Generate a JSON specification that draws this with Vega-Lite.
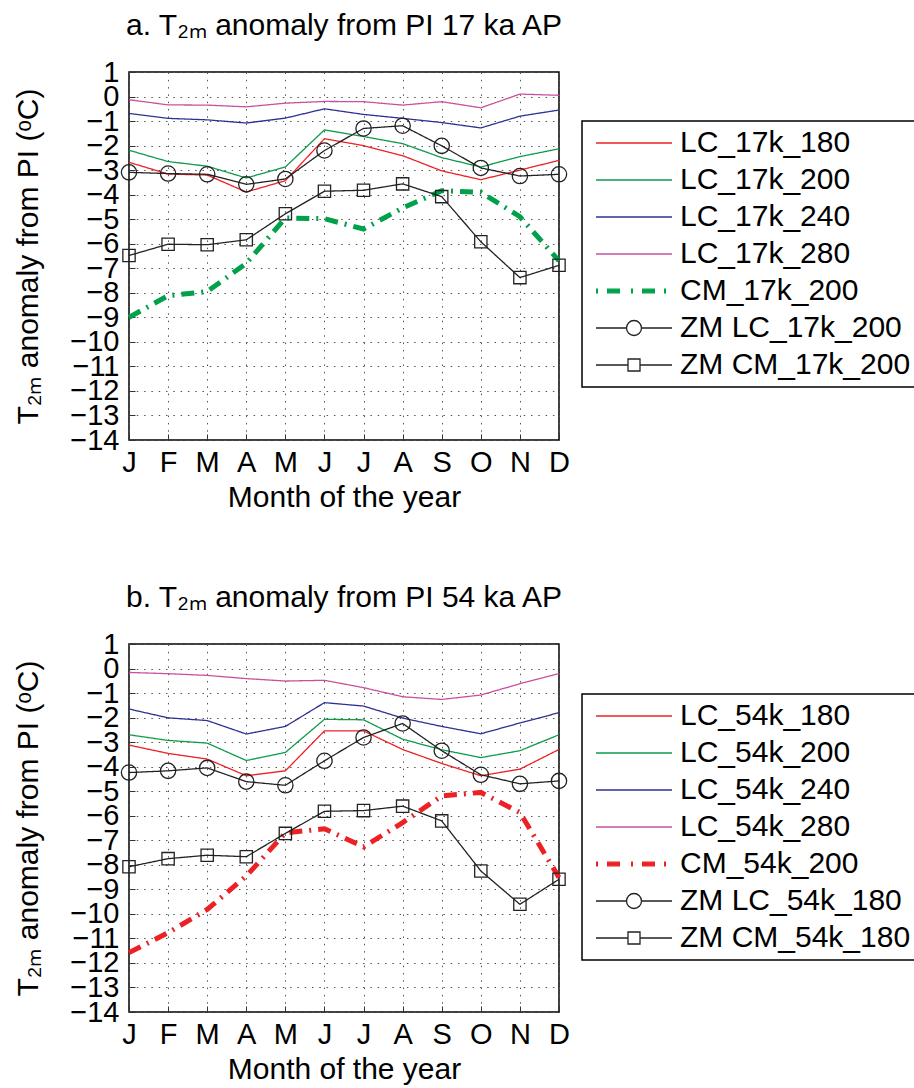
{
  "$schema": "https://vega.github.io/schema/vega-lite/v6.json",
  "padding": {"left": 12, "top": 10, "right": 0, "bottom": 0},
  "spacing": 69,
  "resolve": {"scale": {"color": "independent"}, "legend": {"color": "independent"}},
  "config": {
    "font": "Liberation Sans",
    "view": {"stroke": "black", "strokeWidth": 1.5},
    "axis": {
      "labelFontSize": 29, "titleFontSize": 30, "labelColor": "black", "titleColor": "black",
      "titleFontWeight": "normal", "grid": true, "gridDash": [1.5, 5.8], "gridColor": "#555", "gridWidth": 1,
      "domain": false, "ticks": true, "tickColor": "#333", "tickSize": -6,
      "labelOverlap": false, "labelFlush": false, "labelBound": false
    },
    "title": {"fontSize": 30, "fontWeight": "normal", "color": "black", "anchor": "middle", "baseline": "alphabetic", "offset": 17}
  },
  "datasets": {
    "a": [
      {"series": "LC_17k_180", "m": 1, "t": -2.68}, {"series": "LC_17k_180", "m": 2, "t": -3.16}, {"series": "LC_17k_180", "m": 3, "t": -3.2}, {"series": "LC_17k_180", "m": 4, "t": -3.89}, {"series": "LC_17k_180", "m": 5, "t": -3.43}, {"series": "LC_17k_180", "m": 6, "t": -1.72}, {"series": "LC_17k_180", "m": 7, "t": -2.0}, {"series": "LC_17k_180", "m": 8, "t": -2.41}, {"series": "LC_17k_180", "m": 9, "t": -3.03}, {"series": "LC_17k_180", "m": 10, "t": -3.39}, {"series": "LC_17k_180", "m": 11, "t": -3.0}, {"series": "LC_17k_180", "m": 12, "t": -2.6},
      {"series": "LC_17k_200", "m": 1, "t": -2.19}, {"series": "LC_17k_200", "m": 2, "t": -2.65}, {"series": "LC_17k_200", "m": 3, "t": -2.84}, {"series": "LC_17k_200", "m": 4, "t": -3.32}, {"series": "LC_17k_200", "m": 5, "t": -2.87}, {"series": "LC_17k_200", "m": 6, "t": -1.36}, {"series": "LC_17k_200", "m": 7, "t": -1.63}, {"series": "LC_17k_200", "m": 8, "t": -1.92}, {"series": "LC_17k_200", "m": 9, "t": -2.49}, {"series": "LC_17k_200", "m": 10, "t": -2.87}, {"series": "LC_17k_200", "m": 11, "t": -2.45}, {"series": "LC_17k_200", "m": 12, "t": -2.13},
      {"series": "LC_17k_240", "m": 1, "t": -0.69}, {"series": "LC_17k_240", "m": 2, "t": -0.89}, {"series": "LC_17k_240", "m": 3, "t": -0.95}, {"series": "LC_17k_240", "m": 4, "t": -1.08}, {"series": "LC_17k_240", "m": 5, "t": -0.88}, {"series": "LC_17k_240", "m": 6, "t": -0.5}, {"series": "LC_17k_240", "m": 7, "t": -0.73}, {"series": "LC_17k_240", "m": 8, "t": -0.89}, {"series": "LC_17k_240", "m": 9, "t": -1.06}, {"series": "LC_17k_240", "m": 10, "t": -1.28}, {"series": "LC_17k_240", "m": 11, "t": -0.8}, {"series": "LC_17k_240", "m": 12, "t": -0.55},
      {"series": "LC_17k_280", "m": 1, "t": -0.13}, {"series": "LC_17k_280", "m": 2, "t": -0.34}, {"series": "LC_17k_280", "m": 3, "t": -0.35}, {"series": "LC_17k_280", "m": 4, "t": -0.42}, {"series": "LC_17k_280", "m": 5, "t": -0.27}, {"series": "LC_17k_280", "m": 6, "t": -0.2}, {"series": "LC_17k_280", "m": 7, "t": -0.21}, {"series": "LC_17k_280", "m": 8, "t": -0.35}, {"series": "LC_17k_280", "m": 9, "t": -0.21}, {"series": "LC_17k_280", "m": 10, "t": -0.46}, {"series": "LC_17k_280", "m": 11, "t": 0.1}, {"series": "LC_17k_280", "m": 12, "t": 0.05},
      {"series": "CM_17k_200", "m": 1, "t": -9.0}, {"series": "CM_17k_200", "m": 2, "t": -8.12}, {"series": "CM_17k_200", "m": 3, "t": -7.95}, {"series": "CM_17k_200", "m": 4, "t": -6.8}, {"series": "CM_17k_200", "m": 5, "t": -4.95}, {"series": "CM_17k_200", "m": 6, "t": -4.98}, {"series": "CM_17k_200", "m": 7, "t": -5.4}, {"series": "CM_17k_200", "m": 8, "t": -4.54}, {"series": "CM_17k_200", "m": 9, "t": -3.84}, {"series": "CM_17k_200", "m": 10, "t": -3.9}, {"series": "CM_17k_200", "m": 11, "t": -4.9}, {"series": "CM_17k_200", "m": 12, "t": -6.7},
      {"series": "ZM LC_17k_200", "m": 1, "t": -3.09}, {"series": "ZM LC_17k_200", "m": 2, "t": -3.14}, {"series": "ZM LC_17k_200", "m": 3, "t": -3.17}, {"series": "ZM LC_17k_200", "m": 4, "t": -3.58}, {"series": "ZM LC_17k_200", "m": 5, "t": -3.36}, {"series": "ZM LC_17k_200", "m": 6, "t": -2.2}, {"series": "ZM LC_17k_200", "m": 7, "t": -1.3}, {"series": "ZM LC_17k_200", "m": 8, "t": -1.19}, {"series": "ZM LC_17k_200", "m": 9, "t": -2.01}, {"series": "ZM LC_17k_200", "m": 10, "t": -2.91}, {"series": "ZM LC_17k_200", "m": 11, "t": -3.24}, {"series": "ZM LC_17k_200", "m": 12, "t": -3.17},
      {"series": "ZM CM_17k_200", "m": 1, "t": -6.48}, {"series": "ZM CM_17k_200", "m": 2, "t": -6.02}, {"series": "ZM CM_17k_200", "m": 3, "t": -6.04}, {"series": "ZM CM_17k_200", "m": 4, "t": -5.84}, {"series": "ZM CM_17k_200", "m": 5, "t": -4.78}, {"series": "ZM CM_17k_200", "m": 6, "t": -3.86}, {"series": "ZM CM_17k_200", "m": 7, "t": -3.82}, {"series": "ZM CM_17k_200", "m": 8, "t": -3.56}, {"series": "ZM CM_17k_200", "m": 9, "t": -4.08}, {"series": "ZM CM_17k_200", "m": 10, "t": -5.92}, {"series": "ZM CM_17k_200", "m": 11, "t": -7.38}, {"series": "ZM CM_17k_200", "m": 12, "t": -6.88}
    ],
    "b": [
      {"series": "LC_54k_180", "m": 1, "t": -3.12}, {"series": "LC_54k_180", "m": 2, "t": -3.46}, {"series": "LC_54k_180", "m": 3, "t": -3.69}, {"series": "LC_54k_180", "m": 4, "t": -4.37}, {"series": "LC_54k_180", "m": 5, "t": -4.17}, {"series": "LC_54k_180", "m": 6, "t": -2.54}, {"series": "LC_54k_180", "m": 7, "t": -2.54}, {"series": "LC_54k_180", "m": 8, "t": -3.3}, {"series": "LC_54k_180", "m": 9, "t": -3.87}, {"series": "LC_54k_180", "m": 10, "t": -4.37}, {"series": "LC_54k_180", "m": 11, "t": -4.1}, {"series": "LC_54k_180", "m": 12, "t": -3.3},
      {"series": "LC_54k_200", "m": 1, "t": -2.7}, {"series": "LC_54k_200", "m": 2, "t": -2.93}, {"series": "LC_54k_200", "m": 3, "t": -3.04}, {"series": "LC_54k_200", "m": 4, "t": -3.75}, {"series": "LC_54k_200", "m": 5, "t": -3.42}, {"series": "LC_54k_200", "m": 6, "t": -2.07}, {"series": "LC_54k_200", "m": 7, "t": -2.09}, {"series": "LC_54k_200", "m": 8, "t": -2.88}, {"series": "LC_54k_200", "m": 9, "t": -3.31}, {"series": "LC_54k_200", "m": 10, "t": -3.63}, {"series": "LC_54k_200", "m": 11, "t": -3.35}, {"series": "LC_54k_200", "m": 12, "t": -2.7},
      {"series": "LC_54k_240", "m": 1, "t": -1.65}, {"series": "LC_54k_240", "m": 2, "t": -2.01}, {"series": "LC_54k_240", "m": 3, "t": -2.12}, {"series": "LC_54k_240", "m": 4, "t": -2.67}, {"series": "LC_54k_240", "m": 5, "t": -2.36}, {"series": "LC_54k_240", "m": 6, "t": -1.39}, {"series": "LC_54k_240", "m": 7, "t": -1.53}, {"series": "LC_54k_240", "m": 8, "t": -2.02}, {"series": "LC_54k_240", "m": 9, "t": -2.36}, {"series": "LC_54k_240", "m": 10, "t": -2.66}, {"series": "LC_54k_240", "m": 11, "t": -2.22}, {"series": "LC_54k_240", "m": 12, "t": -1.8},
      {"series": "LC_54k_280", "m": 1, "t": -0.16}, {"series": "LC_54k_280", "m": 2, "t": -0.21}, {"series": "LC_54k_280", "m": 3, "t": -0.28}, {"series": "LC_54k_280", "m": 4, "t": -0.41}, {"series": "LC_54k_280", "m": 5, "t": -0.51}, {"series": "LC_54k_280", "m": 6, "t": -0.48}, {"series": "LC_54k_280", "m": 7, "t": -0.78}, {"series": "LC_54k_280", "m": 8, "t": -1.15}, {"series": "LC_54k_280", "m": 9, "t": -1.26}, {"series": "LC_54k_280", "m": 10, "t": -1.08}, {"series": "LC_54k_280", "m": 11, "t": -0.62}, {"series": "LC_54k_280", "m": 12, "t": -0.21},
      {"series": "CM_54k_200", "m": 1, "t": -11.58}, {"series": "CM_54k_200", "m": 2, "t": -10.77}, {"series": "CM_54k_200", "m": 3, "t": -9.82}, {"series": "CM_54k_200", "m": 4, "t": -8.46}, {"series": "CM_54k_200", "m": 5, "t": -6.7}, {"series": "CM_54k_200", "m": 6, "t": -6.53}, {"series": "CM_54k_200", "m": 7, "t": -7.27}, {"series": "CM_54k_200", "m": 8, "t": -6.28}, {"series": "CM_54k_200", "m": 9, "t": -5.19}, {"series": "CM_54k_200", "m": 10, "t": -5.05}, {"series": "CM_54k_200", "m": 11, "t": -5.87}, {"series": "CM_54k_200", "m": 12, "t": -8.52},
      {"series": "ZM LC_54k_180", "m": 1, "t": -4.24}, {"series": "ZM LC_54k_180", "m": 2, "t": -4.17}, {"series": "ZM LC_54k_180", "m": 3, "t": -4.05}, {"series": "ZM LC_54k_180", "m": 4, "t": -4.61}, {"series": "ZM LC_54k_180", "m": 5, "t": -4.76}, {"series": "ZM LC_54k_180", "m": 6, "t": -3.76}, {"series": "ZM LC_54k_180", "m": 7, "t": -2.81}, {"series": "ZM LC_54k_180", "m": 8, "t": -2.24}, {"series": "ZM LC_54k_180", "m": 9, "t": -3.35}, {"series": "ZM LC_54k_180", "m": 10, "t": -4.33}, {"series": "ZM LC_54k_180", "m": 11, "t": -4.7}, {"series": "ZM LC_54k_180", "m": 12, "t": -4.58},
      {"series": "ZM CM_54k_180", "m": 1, "t": -8.08}, {"series": "ZM CM_54k_180", "m": 2, "t": -7.75}, {"series": "ZM CM_54k_180", "m": 3, "t": -7.61}, {"series": "ZM CM_54k_180", "m": 4, "t": -7.67}, {"series": "ZM CM_54k_180", "m": 5, "t": -6.72}, {"series": "ZM CM_54k_180", "m": 6, "t": -5.82}, {"series": "ZM CM_54k_180", "m": 7, "t": -5.79}, {"series": "ZM CM_54k_180", "m": 8, "t": -5.61}, {"series": "ZM CM_54k_180", "m": 9, "t": -6.21}, {"series": "ZM CM_54k_180", "m": 10, "t": -8.25}, {"series": "ZM CM_54k_180", "m": 11, "t": -9.61}, {"series": "ZM CM_54k_180", "m": 12, "t": -8.59}
    ]
  },
  "vconcat": [
    {
      "title": {"text": "a. T₂ₘ anomaly from PI 17 ka AP"},
      "width": 430, "height": 368,
      "data": {"name": "a"},
      "encoding": {
        "x": {"field": "m", "type": "quantitative", "scale": {"domain": [1, 12], "nice": false, "zero": false},
              "axis": {"title": "Month of the year", "values": [1,2,3,4,5,6,7,8,9,10,11,12], "labelExpr": "['J','F','M','A','M','J','J','A','S','O','N','D'][datum.value-1]", "labelPadding": 14, "titlePadding": 5}},
        "y": {"field": "t", "type": "quantitative", "scale": {"domain": [-14, 1], "nice": false, "zero": false},
              "axis": {"title": "T₂ₘ anomaly from PI (ᵒC)", "values": [-14,-13,-12,-11,-10,-9,-8,-7,-6,-5,-4,-3,-2,-1,0,1], "labelPadding": 16, "titleX": -92, "titleBaseline": "alphabetic"}}
      },
      "layer": [
        {
          "mark": {"type": "line"},
          "encoding": {
            "color": {"field": "series", "type": "nominal",
              "scale": {"domain": ["LC_17k_180", "LC_17k_200", "LC_17k_240", "LC_17k_280", "CM_17k_200", "ZM LC_17k_200", "ZM CM_17k_200"],
                        "range": ["#ed2024", "#0d9b48", "#2e3192", "#c8509f", "#00a14b", "#222222", "#222222"]},
              "legend": {
                "orient": "none", "legendX": 453, "legendY": 49, "title": null,
                "strokeColor": "black", "padding": 7, "labelFontSize": 30, "labelColor": "black", "labelLimit": 400,
                "symbolSize": 100, "symbolOffset": 0, "labelOffset": 61, "rowPadding": 7, "symbolStrokeWidth": 1.3,
                "encode": {
                  "legend": {"update": {"strokeWidth": {"value": 1.5}}},
                  "symbols": {"update": {
                    "shape": {"signal": "indexof(datum.value, 'ZM LC') === 0 ? 'M-1.6,0H4.5M7.5,0H13.6M4.5,0A1.5,1.5,0,1,1,7.5,0A1.5,1.5,0,1,1,4.5,0' : indexof(datum.value, 'ZM CM') === 0 ? 'M-1.6,0H4.8M7.2,0H13.6M4.8,-1.2H7.2V1.2H4.8Z' : indexof(datum.value, 'CM') === 0 ? 'M-1.47,-0.37H-1.33V0.37H-1.47ZM0.73,-0.37H3.07V0.37H0.73ZM5.53,-0.37H5.67V0.37H5.53ZM7.73,-0.37H10.07V0.37H7.73ZM12.13,-0.37H12.27V0.37H12.13Z' : 'M-1.6,0H13.6'"},
                    "fill": {"signal": "indexof(datum.value, 'CM') === 0 ? '#00a14b' : 'transparent'"}
                  }}
                }
              }},
            "strokeDash": {"condition": {"test": "datum.series === 'CM_17k_200'", "value": [13, 7, 2, 7]}, "value": [1, 0]},
            "strokeWidth": {"condition": {"test": "datum.series === 'CM_17k_200'", "value": 5}, "value": 1.3}
          }
        },
        {
          "transform": [{"filter": "datum.series === 'ZM LC_17k_200'"}],
          "mark": {"type": "point", "shape": "circle", "filled": false, "size": 234, "color": "#222222", "strokeWidth": 1.3, "opacity": 1}
        },
        {
          "transform": [{"filter": "datum.series === 'ZM CM_17k_200'"}],
          "mark": {"type": "point", "shape": "square", "filled": false, "size": 151, "color": "#222222", "strokeWidth": 1.3, "opacity": 1}
        }
      ]
    },
    {
      "title": {"text": "b. T₂ₘ anomaly from PI 54 ka AP"},
      "width": 430, "height": 368,
      "data": {"name": "b"},
      "encoding": {
        "x": {"field": "m", "type": "quantitative", "scale": {"domain": [1, 12], "nice": false, "zero": false},
              "axis": {"title": "Month of the year", "values": [1,2,3,4,5,6,7,8,9,10,11,12], "labelExpr": "['J','F','M','A','M','J','J','A','S','O','N','D'][datum.value-1]", "labelPadding": 14, "titlePadding": 5}},
        "y": {"field": "t", "type": "quantitative", "scale": {"domain": [-14, 1], "nice": false, "zero": false},
              "axis": {"title": "T₂ₘ anomaly from PI (ᵒC)", "values": [-14,-13,-12,-11,-10,-9,-8,-7,-6,-5,-4,-3,-2,-1,0,1], "labelPadding": 16, "titleX": -92, "titleBaseline": "alphabetic"}}
      },
      "layer": [
        {
          "mark": {"type": "line"},
          "encoding": {
            "color": {"field": "series", "type": "nominal",
              "scale": {"domain": ["LC_54k_180", "LC_54k_200", "LC_54k_240", "LC_54k_280", "CM_54k_200", "ZM LC_54k_180", "ZM CM_54k_180"],
                        "range": ["#ed2024", "#0d9b48", "#2e3192", "#c8509f", "#ed2024", "#222222", "#222222"]},
              "legend": {
                "orient": "none", "legendX": 453, "legendY": 50, "title": null,
                "strokeColor": "black", "padding": 7, "labelFontSize": 30, "labelColor": "black", "labelLimit": 400,
                "symbolSize": 100, "symbolOffset": 0, "labelOffset": 61, "rowPadding": 7, "symbolStrokeWidth": 1.3,
                "encode": {
                  "legend": {"update": {"strokeWidth": {"value": 1.5}}},
                  "symbols": {"update": {
                    "shape": {"signal": "indexof(datum.value, 'ZM LC') === 0 ? 'M-1.6,0H4.5M7.5,0H13.6M4.5,0A1.5,1.5,0,1,1,7.5,0A1.5,1.5,0,1,1,4.5,0' : indexof(datum.value, 'ZM CM') === 0 ? 'M-1.6,0H4.8M7.2,0H13.6M4.8,-1.2H7.2V1.2H4.8Z' : indexof(datum.value, 'CM') === 0 ? 'M-1.47,-0.37H-1.33V0.37H-1.47ZM0.73,-0.37H3.07V0.37H0.73ZM5.53,-0.37H5.67V0.37H5.53ZM7.73,-0.37H10.07V0.37H7.73ZM12.13,-0.37H12.27V0.37H12.13Z' : 'M-1.6,0H13.6'"},
                    "fill": {"signal": "indexof(datum.value, 'CM') === 0 ? '#ed2024' : 'transparent'"}
                  }}
                }
              }},
            "strokeDash": {"condition": {"test": "datum.series === 'CM_54k_200'", "value": [13, 7, 2, 7]}, "value": [1, 0]},
            "strokeWidth": {"condition": {"test": "datum.series === 'CM_54k_200'", "value": 5}, "value": 1.3}
          }
        },
        {
          "transform": [{"filter": "datum.series === 'ZM LC_54k_180'"}],
          "mark": {"type": "point", "shape": "circle", "filled": false, "size": 234, "color": "#222222", "strokeWidth": 1.3, "opacity": 1}
        },
        {
          "transform": [{"filter": "datum.series === 'ZM CM_54k_180'"}],
          "mark": {"type": "point", "shape": "square", "filled": false, "size": 151, "color": "#222222", "strokeWidth": 1.3, "opacity": 1}
        }
      ]
    }
  ]
}
